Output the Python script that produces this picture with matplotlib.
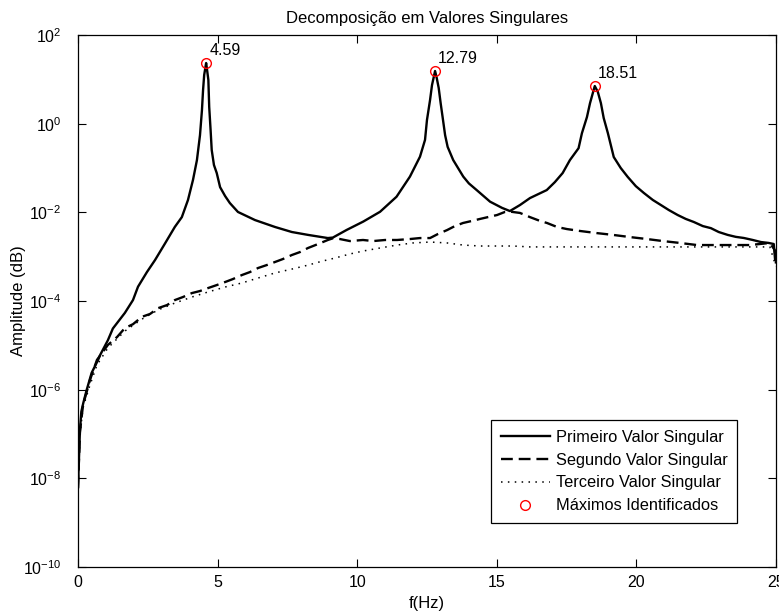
import matplotlib
matplotlib.use("Agg")
import matplotlib.pyplot as plt

plt.rcParams['font.family'] = ['Liberation Sans', 'DejaVu Sans']
plt.rcParams['mathtext.fontset'] = 'custom'
plt.rcParams['mathtext.rm'] = 'Liberation Sans'
plt.rcParams['mathtext.default'] = 'regular'

title = "Decomposição em Valores Singulares"
xlabel = "f(Hz)"
ylabel = "Amplitude (dB)"
legend_labels = ["Primeiro Valor Singular", "Segundo Valor Singular",
                 "Terceiro Valor Singular", "Máximos Identificados"]

# First singular value
f1 = [0.00, 0.04, 0.07, 0.12, 0.19, 0.31, 0.49, 0.72, 0.79, 1.07, 1.25, 1.68, 1.97,
      2.15, 2.47, 2.76, 3.12, 3.47, 3.72, 3.94, 4.12, 4.26, 4.37, 4.44, 4.48, 4.52,
      4.59, 4.61, 4.67, 4.70, 4.75, 4.79, 4.87, 4.97, 5.09, 5.27, 5.44, 5.73, 6.34,
      7.06, 7.66, 8.24, 8.95, 9.13, 9.62, 10.22, 10.82, 11.41, 11.89, 12.25, 12.43,
      12.50, 12.61, 12.68, 12.79, 12.85, 12.92, 12.99, 13.06, 13.15, 13.24, 13.44,
      13.80, 14.00, 14.28, 14.76, 15.19, 15.47, 15.83, 16.19, 16.79, 17.08, 17.36,
      17.62, 17.93, 18.05, 18.23, 18.34, 18.51, 18.62, 18.73, 18.83, 18.98, 19.19,
      19.44, 19.69, 19.98, 20.27, 20.59, 20.88, 21.16, 21.48, 21.77, 22.06, 22.38,
      22.67, 22.95, 23.27, 23.56, 23.85, 24.17, 24.46, 24.74, 24.92, 24.97, 25.00]
a1 = [6.3e-9, 3.4e-8, 1.2e-7, 3.2e-7, 5.0e-7, 9.8e-7, 2.4e-6, 4.7e-6, 6.0e-6, 1.3e-5,
      2.4e-5, 5.4e-5, 1.05e-4, 2.1e-4, 4.5e-4, 8.4e-4, 2.0e-3, 4.7e-3, 7.8e-3, 1.9e-2,
      5.4e-2, 0.15, 0.55, 2.0, 5.7, 12.5, 23.3, 19.0, 9.7, 2.4, 0.72, 0.255, 0.117,
      0.077, 0.037, 0.0233, 0.0162, 0.0102, 6.7e-3, 4.67e-3, 3.6e-3, 3.1e-3, 2.63e-3,
      2.7e-3, 4.0e-3, 6.2e-3, 0.0103, 0.0225, 0.064, 0.18, 0.43, 1.21, 3.4, 7.4, 15.4,
      10.7, 6.4, 2.9, 1.41, 0.55, 0.30, 0.151, 0.064, 0.045, 0.0318, 0.0174, 0.0126,
      0.0107, 0.0146, 0.021, 0.0318, 0.048, 0.077, 0.151, 0.28, 0.61, 1.41, 2.9, 7.06,
      5.2, 2.9, 1.34, 0.61, 0.177, 0.10, 0.063, 0.039, 0.0273, 0.019, 0.0146, 0.0113,
      8.7e-3, 7.1e-3, 6.05e-3, 4.9e-3, 4.4e-3, 3.6e-3, 3.1e-3, 2.8e-3, 2.64e-3,
      2.38e-3, 2.14e-3, 2.04e-3, 1.93e-3, 8.4e-4, 8.0e-4]

# Second singular value
f2 = [0.00, 0.07, 0.18, 0.32, 0.43, 0.68, 1.07, 1.40, 1.68, 1.97, 2.29, 2.58, 2.87,
      3.19, 3.47, 3.76, 4.08, 4.37, 4.66, 4.98, 5.27, 5.55, 5.87, 6.16, 6.45, 6.77,
      7.06, 7.34, 7.66, 7.95, 8.24, 8.60, 8.95, 9.13, 9.38, 9.74, 10.21, 10.57, 11.00,
      11.43, 11.89, 12.25, 12.61, 12.89, 13.22, 13.50, 13.79, 14.11, 14.40, 14.68,
      15.01, 15.29, 15.47, 15.83, 16.19, 16.55, 16.80, 17.16, 17.51, 17.98, 18.59,
      19.16, 19.77, 20.38, 20.95, 21.56, 22.17, 22.74, 23.35, 24.07, 24.78, 24.96, 25.00]
a2 = [6.0e-9, 1.1e-7, 4.5e-7, 9.3e-7, 1.66e-6, 4.7e-6, 1.02e-5, 1.54e-5, 2.45e-5,
      3.0e-5, 4.4e-5, 5.1e-5, 6.9e-5, 8.1e-5, 1.05e-4, 1.23e-4, 1.51e-4, 1.68e-4,
      1.96e-4, 2.3e-4, 2.68e-4, 3.13e-4, 3.85e-4, 4.5e-4, 5.55e-4, 6.5e-4, 7.6e-4,
      8.85e-4, 1.09e-3, 1.27e-3, 1.57e-3, 1.93e-3, 2.38e-3, 2.6e-3, 2.5e-3, 2.25e-3,
      2.38e-3, 2.25e-3, 2.38e-3, 2.38e-3, 2.5e-3, 2.63e-3, 2.63e-3, 3.24e-3, 3.98e-3,
      4.9e-3, 5.75e-3, 6.4e-3, 7.1e-3, 7.8e-3, 8.7e-3, 0.0102, 0.0104, 9.7e-3, 7.8e-3,
      6.4e-3, 5.75e-3, 4.67e-3, 4.2e-3, 3.8e-3, 3.4e-3, 3.1e-3, 2.77e-3, 2.5e-3,
      2.25e-3, 2.04e-3, 1.83e-3, 1.83e-3, 1.83e-3, 1.83e-3, 2.04e-3, 1.4e-3, 7.0e-4]

# Third singular value
f3 = [0.00, 0.07, 0.18, 0.32, 0.43, 0.68, 1.07, 1.68, 2.29, 2.87, 3.47, 4.08, 4.66,
      5.27, 5.87, 6.45, 7.06, 7.66, 8.24, 8.74, 9.20, 9.74, 10.21, 10.82, 11.43, 12.00,
      12.61, 13.22, 13.79, 14.40, 15.01, 15.58, 16.19, 17.26, 18.45, 19.66, 20.85,
      22.03, 23.35, 24.78, 25.00]
a3 = [5.5e-9, 9.5e-8, 3.9e-7, 7.6e-7, 1.27e-6, 3.6e-6, 8.7e-6, 2.1e-5, 3.9e-5, 6.3e-5,
      9.0e-5, 1.23e-4, 1.6e-4, 2.07e-4, 2.55e-4, 3.3e-4, 4.3e-4, 5.25e-4, 6.45e-4,
      7.9e-4, 9.3e-4, 1.15e-3, 1.34e-3, 1.57e-3, 1.83e-3, 2.04e-3, 2.14e-3, 2.04e-3,
      1.83e-3, 1.74e-3, 1.74e-3, 1.74e-3, 1.66e-3, 1.66e-3, 1.66e-3, 1.66e-3, 1.66e-3,
      1.66e-3, 1.66e-3, 1.66e-3, 6.0e-4]

# Identified maxima
peak_f = [4.59, 12.79, 18.51]
peak_a = [23.3, 15.4, 7.06]
peak_labels = ["4.59", "12.79", "18.51"]

xticks = [0, 5, 10, 15, 20, 25]
xtick_labels = ["0", "5", "10", "15", "20", "25"]
yticks = [1e2, 1e0, 1e-2, 1e-4, 1e-6, 1e-8, 1e-10]
ytick_labels = [r"$10^{2}$", r"$10^{0}$", r"$10^{-2}$", r"$10^{-4}$",
                r"$10^{-6}$", r"$10^{-8}$", r"$10^{-10}$"]

fig = plt.figure(figsize=(7.79, 6.13), dpi=100)
ax = fig.add_axes([0.1001, 0.0750, 0.8960, 0.8679])

ax.plot(f1, a1, color='black', lw=1.7, linestyle='-', label=legend_labels[0])
ax.plot(f2, a2, color='black', lw=1.7, linestyle=(0, (5, 2.5)), label=legend_labels[1])
ax.plot(f3, a3, color='black', lw=1.1, linestyle=(0, (1, 3.5)), label=legend_labels[2])
ax.plot(peak_f, peak_a, linestyle='none', marker='o', markersize=7,
        markerfacecolor='none', markeredgecolor='red', markeredgewidth=1.0,
        label=legend_labels[3])

for fx, ay, lab in zip(peak_f, peak_a, peak_labels):
    ax.annotate(lab, (fx, ay), xytext=(3, 8), textcoords='offset pixels',
                ha='left', va='baseline', fontsize=11.5)

ax.set_yscale('log')
ax.set_xlim(0, 25)
ax.set_ylim(1e-10, 1e2)
ax.set_xticks(xticks)
ax.set_xticklabels(xtick_labels)
ax.set_yticks(yticks)
ax.set_yticklabels(ytick_labels)
ax.yaxis.set_minor_locator(matplotlib.ticker.NullLocator())
ax.tick_params(which='both', direction='in', top=True, right=True, length=6,
               width=0.8, labelsize=11.5)
ax.tick_params(axis='x', pad=6)
ax.tick_params(axis='y', pad=12)
for s in ax.spines.values():
    s.set_linewidth(0.9)

ax.set_title(title, fontsize=12, pad=9)
ax.set_xlabel(xlabel, fontsize=12, labelpad=4)
ax.set_ylabel(ylabel, fontsize=12)
ax.yaxis.set_label_coords(-0.075, 0.5)

leg = ax.legend(loc='lower right', bbox_to_anchor=(0.944, 0.083), borderaxespad=0,
                fontsize=11.8, handlelength=3.0, handletextpad=0.35,
                labelspacing=0.48, borderpad=0.58, fancybox=False, framealpha=1)
leg.get_frame().set_edgecolor('black')
leg.get_frame().set_linewidth(0.9)

fig.savefig("out.png", dpi=100)
